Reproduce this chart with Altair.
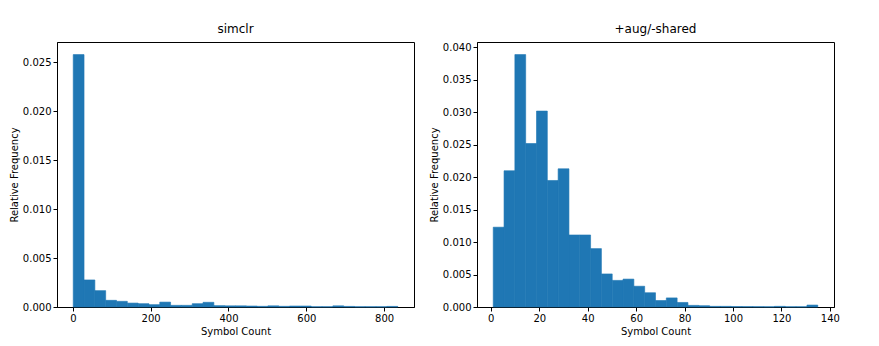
import altair as alt
import pandas as pd

# Relative frequency per histogram bin (30 equal bins)
simclr_freq = [0.02576, 0.00276, 0.00167, 0.00068, 0.00058, 0.00040, 0.00034, 0.00024,
               0.00050, 0.00017, 0.00017, 0.00034, 0.00048, 0.00014, 0.00012, 0.00012,
               0.00010, 0.00007, 0.00012, 0.00007, 0.00010, 0.00010, 0.00003, 0.00003,
               0.00012, 0.00006, 0.00003, 0.00003, 0.00003, 0.00006]
simclr_range = [1, 835]

aug_freq = [0.0123, 0.0210, 0.0389, 0.0252, 0.0302, 0.0195, 0.0213, 0.0111,
            0.0111, 0.0090, 0.0051, 0.0041, 0.0043, 0.0032, 0.0022, 0.0010,
            0.0014, 0.0007, 0.00025, 0.0002, 0.0001, 0.0001, 0.00006, 0.00006,
            0.00005, 0.00004, 0.0001, 0.00004, 0.00004, 0.0003]
aug_range = [1, 135]

titles = ["simclr", "+aug/-shared"]
simclr_xticks = [0, 200, 400, 600, 800]
aug_xticks = [0, 20, 40, 60, 80, 100, 120, 140]
simclr_yticks = [0.000, 0.005, 0.010, 0.015, 0.020, 0.025]
aug_yticks = [0.000, 0.005, 0.010, 0.015, 0.020, 0.025, 0.030, 0.035, 0.040]

BLUE = "#1f77b4"


def hist_df(freq, rng):
    lo, hi = rng
    n = len(freq)
    w = (hi - lo) / n
    return pd.DataFrame({
        "x0": [lo + i * w for i in range(n)],
        "x1": [lo + (i + 1) * w for i in range(n)],
        "f": freq,
        "base": [0.0] * n,
    })


def panel(freq, rng, title, xticks, yticks):
    lo, hi = rng
    m = 0.05 * (hi - lo)
    df = hist_df(freq, rng)
    return alt.Chart(df, title=alt.TitleParams(
        title, fontSize=12, font="DejaVu Sans", fontWeight="normal", color="#000", offset=6
    )).mark_rect(color=BLUE, stroke=BLUE, strokeWidth=0.6).encode(
        x=alt.X("x0:Q", scale=alt.Scale(domain=[lo - m, hi + m], nice=False, zero=False),
                axis=alt.Axis(values=xticks, format="d", title="Symbol Count")),
        x2="x1:Q",
        y=alt.Y("f:Q", scale=alt.Scale(domain=[0, max(freq) * 1.05], nice=False),
                axis=alt.Axis(values=yticks, format=".3f", title="Relative Frequency")),
        y2="base:Q",
    ).properties(width=357, height=265)


left = panel(simclr_freq, simclr_range, titles[0], simclr_xticks, simclr_yticks)
right = panel(aug_freq, aug_range, titles[1], aug_xticks, aug_yticks)

chart = alt.hconcat(left, right, spacing=13).properties(
    padding={"left": 0, "top": 14, "right": 5, "bottom": 5}
).configure_view(
    stroke="#000", strokeWidth=1
).configure_axis(
    grid=False,
    labelFont="DejaVu Sans", labelFontSize=10, labelColor="#000",
    titleFont="DejaVu Sans", titleFontSize=10, titleFontWeight="normal", titleColor="#000",
    tickColor="#000", domainColor="#000", tickSize=4, labelPadding=2, titlePadding=3,
)

chart.save("out.html", embed_options={"renderer": "svg", "actions": False})
